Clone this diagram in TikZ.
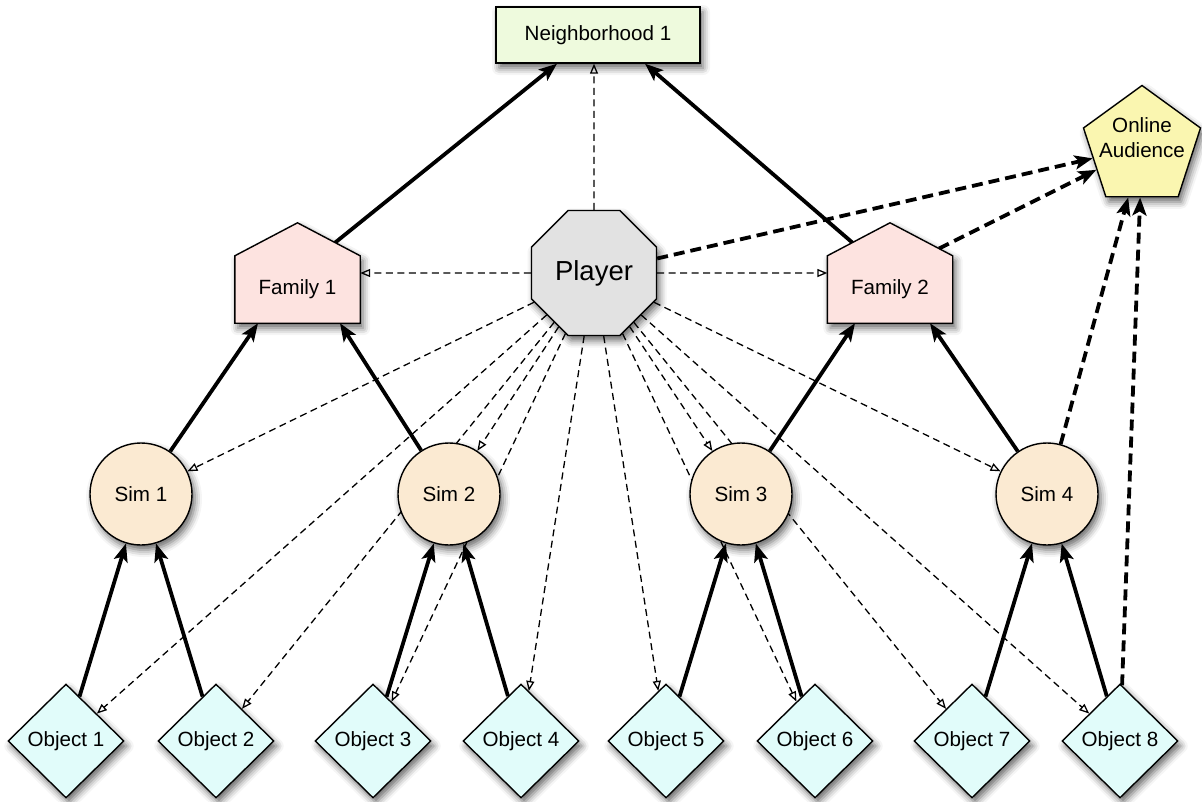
\documentclass[tikz,border=0pt]{standalone}
\usepackage{fontspec}
\setmainfont{Liberation Sans}
\usetikzlibrary{shapes.geometric,arrows.meta,calc,shadows.blur}
\definecolor{nbhfill}{RGB}{238,250,221}
\definecolor{onlfill}{RGB}{250,246,176}
\definecolor{plyfill}{RGB}{226,226,226}
\definecolor{famfill}{RGB}{253,227,224}
\definecolor{simfill}{RGB}{251,234,210}
\definecolor{objfill}{RGB}{225,252,250}
\pgfdeclarelayer{edges}
\pgfdeclarelayer{shapes}
\pgfsetlayers{edges,shapes,main}
\begin{document}
\begin{tikzpicture}[x=1pt,y=-1pt,
  lbl/.style={font=\fontsize{20.6}{25}\selectfont, align=center},
  shd/.style={blur shadow={shadow xshift=3pt, shadow yshift=-5pt, shadow blur radius=7pt, shadow opacity=60}},
  shp/.style={lbl, draw=black, line width=1.4pt, inner sep=0pt, shd},
  nbhbox/.style={shp, rectangle, fill=nbhfill, minimum width=204pt, minimum height=56pt},
  onlbox/.style={shp, regular polygon, regular polygon sides=5, fill=onlfill, minimum size=123pt},
  plybox/.style={shp, regular polygon, regular polygon sides=8, fill=plyfill, minimum size=135.3pt, font=\fontsize{27.5}{32}\selectfont},
  fambox/.style={lbl, rectangle, inner sep=0pt, minimum width=125pt, minimum height=67pt},
  housefill/.style={fill=famfill, draw=black, line width=1.4pt, shd},
  simbox/.style={shp, circle, fill=simfill, minimum size=102pt},
  objbox/.style={shp, diamond, aspect=1, fill=objfill, minimum width=116pt, minimum height=114pt},
  solidarr/.style={line width=3.8pt, -{Stealth[length=18pt,width=14pt,inset=4pt]}},
  thickdash/.style={line width=3.8pt, dash pattern=on 11pt off 6pt, -{Stealth[length=18pt,width=14pt,inset=4pt]}},
  thindash/.style={line width=1.3pt, dash pattern=on 7pt off 4.5pt, -{Triangle[open,length=10pt,width=8pt,line width=1.3pt]}}
]
\useasboundingbox (0,0) rectangle (1202,801);

% nodes
\node[nbhbox] (nbh) at (598,35) {Neighborhood 1};
\node[onlbox, label={[lbl, yshift=9.5pt]center:{Online\\Audience}}] (online) at (1142,147) {};
\node[plybox] (player) at (594,273) {Player};
\node[fambox] (fam1) at (297.5,289.5) {Family 1};
\node[fambox] (fam2) at (890,289.5) {Family 2};
\node[simbox] (sim1) at (141,494) {Sim 1};
\node[simbox] (sim2) at (449,494) {Sim 2};
\node[simbox] (sim3) at (741,494) {Sim 3};
\node[simbox] (sim4) at (1047,494) {Sim 4};
\node[objbox] (obj1) at (66,741) {Object 1};
\node[objbox] (obj2) at (216,741) {Object 2};
\node[objbox] (obj3) at (373,741) {Object 3};
\node[objbox] (obj4) at (521,741) {Object 4};
\node[objbox] (obj5) at (666,741) {Object 5};
\node[objbox] (obj6) at (815,741) {Object 6};
\node[objbox] (obj7) at (972,741) {Object 7};
\node[objbox] (obj8) at (1120,741) {Object 8};

% roof points
\coordinate (f1apex) at ($(fam1.north)+(0,-33)$);
\coordinate (f2apex) at ($(fam2.north)+(0,-33)$);
\coordinate (f1roofR) at ($(f1apex)!0.6!(fam1.north east)$);
\coordinate (f2roofL) at ($(f2apex)!0.6!(fam2.north west)$);
\coordinate (f2roofR) at ($(f2apex)!0.78!(fam2.north east)$);

% house outlines
\begin{pgfonlayer}{shapes}
\path[housefill] (fam1.south west) -- (fam1.north west) -- (f1apex) -- (fam1.north east) -- (fam1.south east) -- cycle;
\path[housefill] (fam2.south west) -- (fam2.north west) -- (f2apex) -- (fam2.north east) -- (fam2.south east) -- cycle;
\end{pgfonlayer}

% connectors
\begin{pgfonlayer}{edges}
\draw[thindash] (player) -- (nbh.south -| player);
\draw[thindash] (player) -- (fam1.east |- player);
\draw[thindash] (player) -- (fam2.west |- player);
\foreach \t in {sim1,sim2,sim3,sim4,obj1,obj2,obj3,obj4,obj5,obj6,obj7,obj8}
  \draw[thindash] (player) -- (\t);

\draw[thickdash] (player) -- (online);
\draw[thickdash] (f2roofR) -- (online);
\draw[thickdash] (sim4) -- (online);
\draw[thickdash] (obj8) -- (online);

\draw[solidarr] (obj1) -- (sim1);
\draw[solidarr] (obj2) -- (sim1);
\draw[solidarr] (obj3) -- (sim2);
\draw[solidarr] (obj4) -- (sim2);
\draw[solidarr] (obj5) -- (sim3);
\draw[solidarr] (obj6) -- (sim3);
\draw[solidarr] (obj7) -- (sim4);
\draw[solidarr] (obj8) -- (sim4);
\draw[solidarr] (sim1) -- ($(fam1.south)+(-39.5,0)$);
\draw[solidarr] (sim2) -- ($(fam1.south)+(42.5,0)$);
\draw[solidarr] (sim3) -- ($(fam2.south)+(-35,0)$);
\draw[solidarr] (sim4) -- ($(fam2.south)+(40,0)$);
\draw[solidarr] (f1roofR) -- ($(nbh.south)+(-41,0)$);
\draw[solidarr] (f2roofL) -- ($(nbh.south)+(47,0)$);
\end{pgfonlayer}
\end{tikzpicture}
\end{document}
